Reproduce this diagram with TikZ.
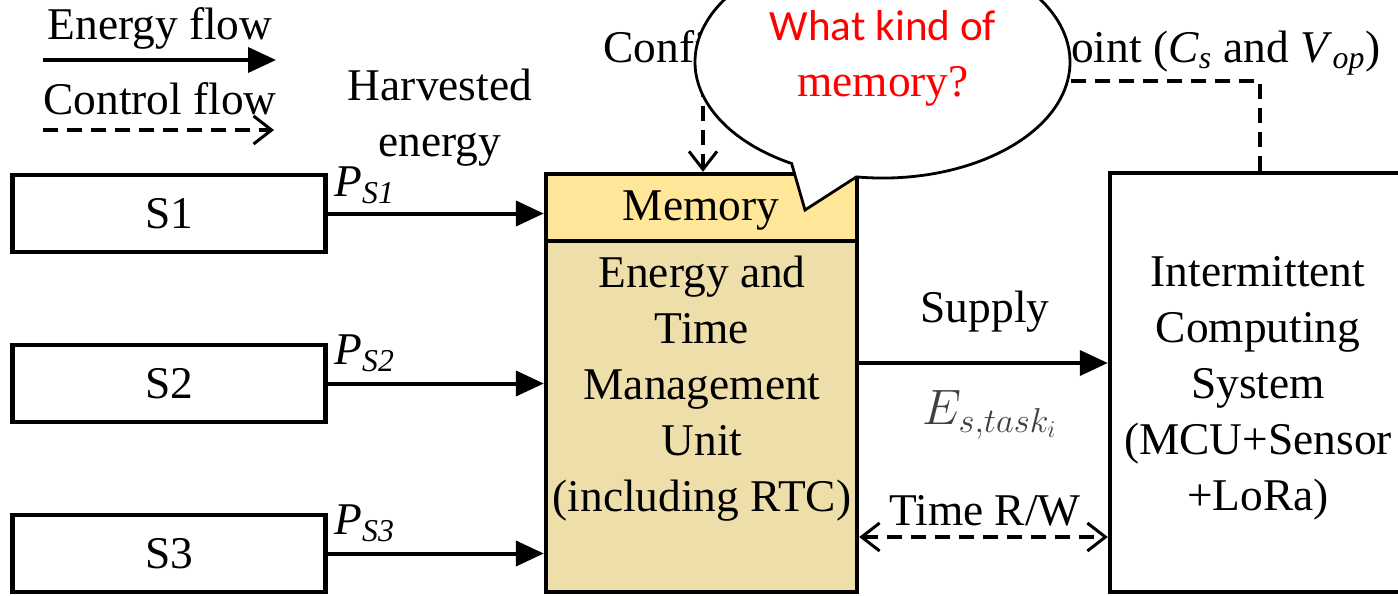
\documentclass[tikz,border=0pt]{standalone}
\usepackage{fontspec}
\setmainfont{Liberation Serif}
\newfontfamily\bubblefont{Carlito}
\usetikzlibrary{arrows.meta}
\definecolor{memfill}{HTML}{FFE699}
\definecolor{unitfill}{HTML}{EEDFAA}
\definecolor{bubblered}{HTML}{FF0000}
\begin{document}
\begin{tikzpicture}[x=0.5pt,y=-0.5pt,
  font=\fontsize{22.7}{28}\selectfont,
  blk/.style={draw, line width=2.2pt, inner sep=0pt},
  eflow/.style={line width=2pt, -{Triangle[length=14pt,width=12.5pt]}},
  barb/.tip={Straight Barb[length=9pt,width=14pt,line width=1.5pt]},
  cflow/.style={line width=1.8pt, dash pattern=on 7.5pt off 4.5pt, -barb},
  cboth/.style={line width=1.8pt, dash pattern=on 7.5pt off 4.5pt, barb-barb},
  lbl/.style={inner sep=0pt, align=center}
]
\useasboundingbox (0,0) rectangle (1398,595);

% legend
\node[lbl] (legE) at (160,28) {Energy flow};
\coordinate (le1) at (43,60); \coordinate (le2) at (276,60);
\draw[eflow] (le1) -- (le2);
\node[lbl] (legC) at (160,99) {Control flow};
\coordinate (lc1) at (43,130); \coordinate (lc2) at (274,130);
\draw[cflow] (lc1) -- (lc2);

\node[lbl, align=center] (harv) at (440,118) {Harvested\\[0pt]energy};

% sources
\node[blk, minimum width=156.5pt, minimum height=38.5pt] (s1) at (169,213.5) {S1};
\node[blk, minimum width=156.5pt, minimum height=38.5pt] (s2) at (169,383.5) {S2};
\node[blk, minimum width=156.5pt, minimum height=38.5pt] (s3) at (169,553.5) {S3};

% management unit
\node[blk, fill=unitfill, minimum width=155.5pt, minimum height=175.5pt] (unit) at (701.5,416.5) {};
\node[blk, fill=memfill, minimum width=155.5pt, minimum height=33.5pt] (mem) at (701.5,207.5) {};
\node[lbl] (memtxt) at (701,211) {Memory};
\node[lbl] (unittxt) at (702,389) {Energy and\\Time\\Management\\Unit\\(including RTC)};

% intermittent computing system
\node[blk, minimum width=155pt, minimum height=209.5pt] (ics) at (1265,382.5) {};
\node[lbl] (icstxt) at (1258,388) {Intermittent\\Computing\\System\\(MCU+Sensor\\+LoRa)};

% energy arrows
\draw[eflow] (s1.east) -- (s1.east -| mem.west);
\draw[eflow] (s2.east) -- (s2.east -| unit.west);
\draw[eflow] (s3.east) -- (s3.east -| unit.west);
\node[lbl, anchor=west] (p1) at (334,185) {\textit{P}\textsubscript{\textit{S1}}};
\node[lbl, anchor=west] (p2) at (334,353) {\textit{P}\textsubscript{\textit{S2}}};
\node[lbl, anchor=west] (p3) at (334,523) {\textit{P}\textsubscript{\textit{S3}}};

\coordinate (ysup) at (0,363);
\draw[eflow] (unit.east |- ysup) -- (ics.west |- ysup);
\node[lbl] (supply) at (985,312) {Supply};
\node[lbl, text=black!75] (etask) at (990,415) {\fontsize{24}{28}\selectfont$E_{s,task_i}$};

\coordinate (ytime) at (0,537);
\draw[cboth] (unit.east |- ytime) -- (ics.west |- ytime);
\node[lbl] (time) at (985,511) {Time R/W};

% configuration control flow
\coordinate (c1) at (1260,81);
\coordinate (c2) at (703,81);
\draw[cflow] (ics.north -| c1) -- (c1) -- (c2) -- (c2 |- mem.north);
\node[lbl, anchor=base west] (conf1) at (603,62) {Configuration of};
\node[lbl, anchor=base east] (conf2) at (1381,62) {checkpoint (\textit{C}\textsubscript{\textit{s}} and \textit{V}\textsubscript{\textit{op}})};

% speech bubble
\path[draw=black, fill=white, line width=1.4pt, line join=miter]
  (856.4,176.9) arc[start angle=98, end angle=-241, x radius=187.5, y radius=116] -- (805,210) -- cycle;
\node[lbl, text=bubblered] (bubbletxt) at (883,58) {\bubblefont\fontsize{21.6}{26}\selectfont What kind of\\memory?};
\end{tikzpicture}
\end{document}
